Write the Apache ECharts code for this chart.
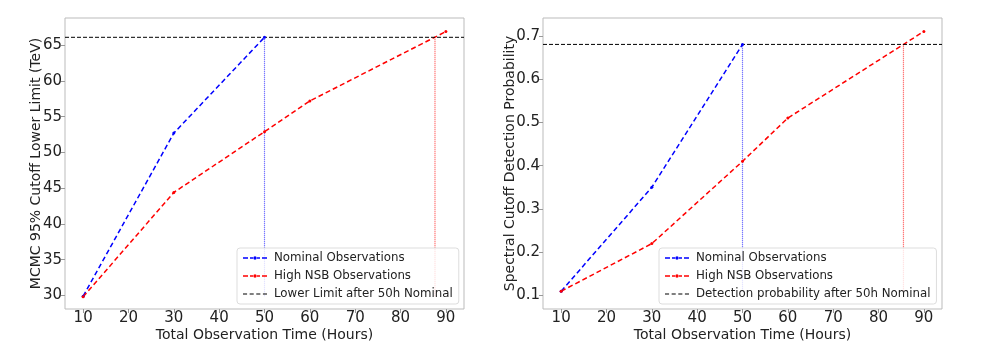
<!DOCTYPE html>
<html>
<head>
<meta charset="utf-8">
<script src="https://cdn.jsdelivr.net/npm/echarts@6/dist/echarts.min.js"></script>
<style>
html, body { margin: 0; padding: 0; background: #fff; }
#chart { width: 981px; height: 359px; }
</style>
</head>
<body>
<div id="chart"></div>
<script>
// observation times (hours)
var hoursNominal = [10, 30, 50];
var hoursNSB = [10, 30, 50, 60, 90];

// left panel: MCMC 95% cutoff lower limit (TeV)
var limitNominal = [29.9, 52.7, 66.1];
var limitNSB = [29.8, 44.4, 52.9, 57.2, 66.9];
var limitRef = 66.1;
var limitCross = 87.6;

// right panel: spectral cutoff detection probability
var probNominal = [0.11, 0.35, 0.68];
var probNSB = [0.11, 0.22, 0.41, 0.51, 0.71];
var probRef = 0.68;
var probCross = 85.5;

var xTicks = [10, 20, 30, 40, 50, 60, 70, 80, 90];
var limitTicks = [30, 35, 40, 45, 50, 55, 60, 65];
var probTicks = [0.1, 0.2, 0.3, 0.4, 0.5, 0.6, 0.7];

var names = ['Nominal Observations', 'High NSB Observations'];
var refNames = ['Lower Limit after 50h Nominal', 'Detection probability after 50h Nominal'];

function pairs(xs, ys) {
	var res = [];
	for (var i = 0; i < xs.length; i++) res.push([xs[i], ys[i]]);
	return res;
}

var chart = echarts.init(document.getElementById('chart'));

var textColor = '#222';
var font = 'DejaVu Sans';

// legend icons: dashed line (with a small dot for the data series)
var iconDotted = 'path://M0,2h5v1.6h-5zM7,2h3v1.6h-3zM14,2h3v1.6h-3zM19,2h5v1.6h-5zM10.3,2.8a1.7,1.7 0 1,0 3.4,0a1.7,1.7 0 1,0 -3.4,0z';
var iconDash = 'path://M0,2h4v1h-4zM6.5,2h4v1h-4zM13,2h4v1h-4zM19.5,2h4v1h-4z';

function xAxisFor(idx) {
	return {
		type : 'value',
		gridIndex : idx,
		min : 6,
		max : 94,
		name : 'Total Observation Time (Hours)',
		nameLocation : 'middle',
		nameGap : 19,
		nameMoveOverlap : false,
		nameTextStyle : { color : textColor, fontSize : 14, fontFamily : font },
		axisLine : { show : false },
		axisTick : { show : true, inside : false, length : 4, lineStyle : { color : '#999' }, customValues : xTicks },
		axisLabel : { color : textColor, fontSize : 15, fontFamily : font, margin : 2, customValues : xTicks },
		splitLine : { show : false }
	};
}

function yAxisFor(idx, min, max, ticks, name, gap) {
	return {
		type : 'value',
		gridIndex : idx,
		min : min,
		max : max,
		name : name,
		nameLocation : 'middle',
		nameGap : gap,
		nameMoveOverlap : false,
		nameTextStyle : { color : textColor, fontSize : 14, fontFamily : font },
		axisLine : { show : false },
		axisTick : { show : true, inside : false, length : 4, lineStyle : { color : '#999' }, customValues : ticks },
		axisLabel : { color : textColor, fontSize : 15, fontFamily : font, margin : 3, customValues : ticks },
		splitLine : { show : false }
	};
}

function dashed(name, color, data, xi) {
	return {
		name : name,
		type : 'line',
		xAxisIndex : xi,
		yAxisIndex : xi,
		data : data,
		symbol : 'circle',
		symbolSize : 3,
		itemStyle : { color : color },
		lineStyle : { color : color, width : 1.5, type : [5, 3] }
	};
}

function vline(color, x, y0, y1, xi) {
	return {
		name : 'marker',
		type : 'line',
		xAxisIndex : xi,
		yAxisIndex : xi,
		data : [[x, y0], [x, y1]],
		symbol : 'none',
		color : color,
		itemStyle : { color : color },
		lineStyle : { color : color, width : 1.2, type : [1, 1], opacity : 0.7 },
		silent : true
	};
}

function legendFor(left, refName) {
	return {
		orient : 'vertical',
		left : left,
		top : 248,
		padding : [4, 6, 4, 6],
		itemGap : 6,
		itemWidth : 24,
		itemHeight : 6,
		backgroundColor : 'rgba(255,255,255,0.8)',
		borderColor : '#ddd',
		borderWidth : 1,
		borderRadius : 3,
		textStyle : { color : textColor, fontSize : 11.8, fontFamily : font, padding : [0, 0, 0, 2] },
		data : [
			{ name : names[0], icon : iconDotted },
			{ name : names[1], icon : iconDotted },
			{ name : refName, icon : iconDash }
		]
	};
}

var option = {
	backgroundColor : '#fff',
	animation : false,
	legend : [
		legendFor(237, refNames[0]),
		legendFor(659, refNames[1])
	],
	grid : [
		{ left : 65, right : 517, top : 18, bottom : 50, show : true, borderColor : '#bbb', borderWidth : 1 },
		{ left : 543, right : 39, top : 18, bottom : 50, show : true, borderColor : '#bbb', borderWidth : 1 }
	],
	xAxis : [ xAxisFor(0), xAxisFor(1) ],
	yAxis : [
		yAxisFor(0, 28.1, 68.8, limitTicks, 'MCMC 95% Cutoff Lower Limit (TeV)', 22),
		yAxisFor(1, 0.069, 0.741, probTicks, 'Spectral Cutoff Detection Probability', 26)
	],
	series : [
		vline('#0000ff', 50, limitNominal[0], limitRef, 0),
		vline('#ff0000', limitCross, limitNominal[0], limitRef, 0),
		dashed(names[0], '#0000ff', pairs(hoursNominal, limitNominal), 0),
		dashed(names[1], '#ff0000', pairs(hoursNSB, limitNSB), 0),
		{
			name : refNames[0], type : 'line', xAxisIndex : 0, yAxisIndex : 0,
			data : [[6, limitRef], [94, limitRef]], symbol : 'none',
			itemStyle : { color : '#000' },
			lineStyle : { color : '#000', width : 1, type : [4, 2] }
		},
		vline('#0000ff', 50, probNominal[0], probRef, 1),
		vline('#ff0000', probCross, probNominal[0], probRef, 1),
		dashed(names[0], '#0000ff', pairs(hoursNominal, probNominal), 1),
		dashed(names[1], '#ff0000', pairs(hoursNSB, probNSB), 1),
		{
			name : refNames[1], type : 'line', xAxisIndex : 1, yAxisIndex : 1,
			data : [[6, probRef], [94, probRef]], symbol : 'none',
			itemStyle : { color : '#000' },
			lineStyle : { color : '#000', width : 1, type : [4, 2] }
		}
	]
};

chart.setOption(option);
</script>
</body>
</html>
